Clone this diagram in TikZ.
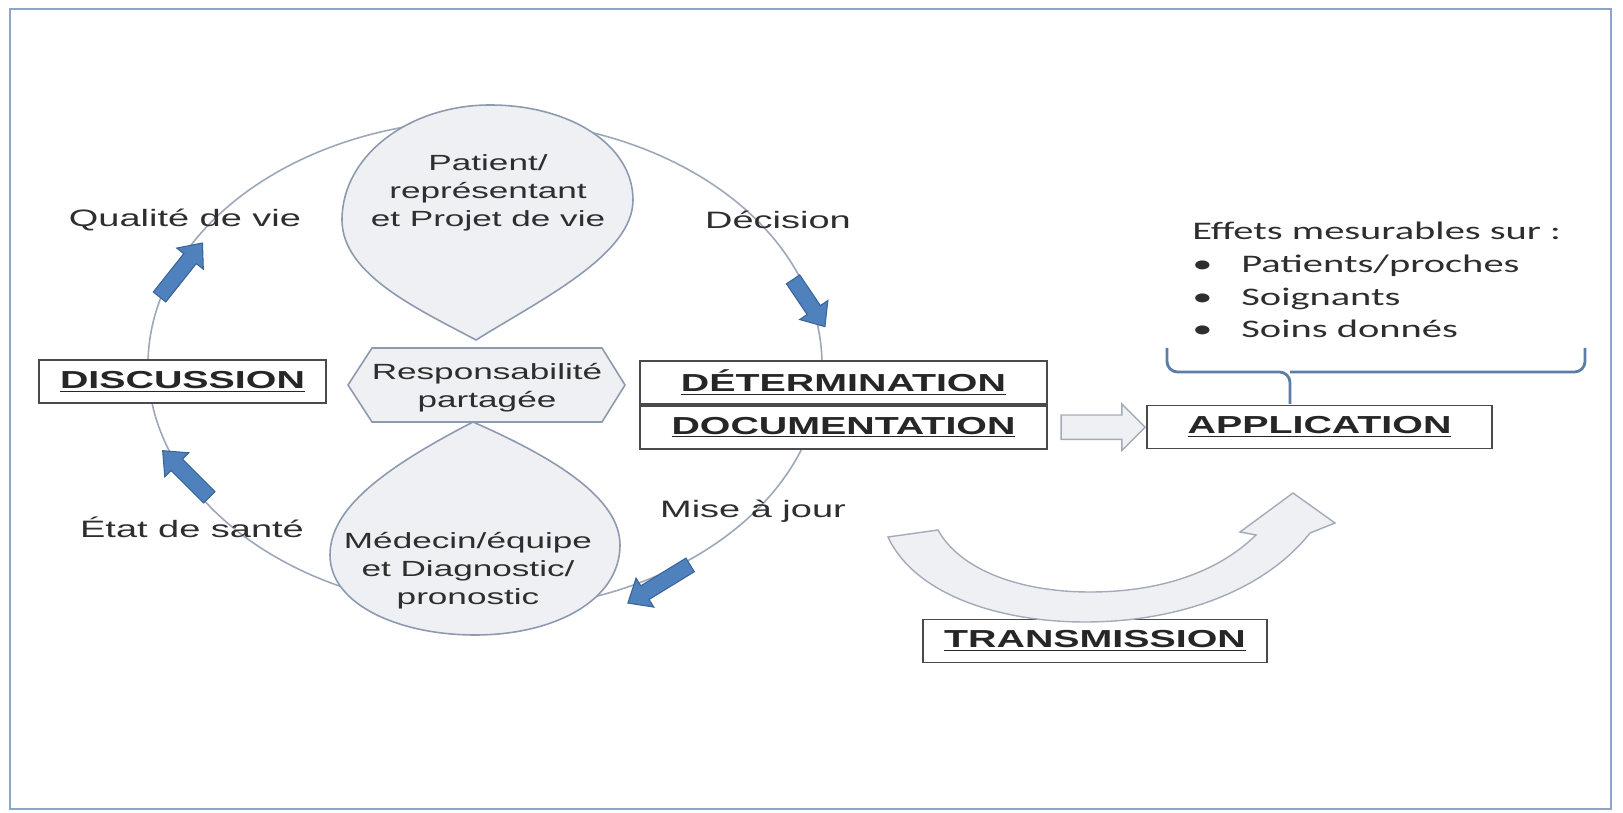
\documentclass[tikz,border=0pt]{standalone}
\usepackage{fontspec}
\setmainfont{Liberation Sans}[FakeStretch=1.6]
\newfontfamily\calibri{Carlito}[FakeStretch=1.6]
\usetikzlibrary{shapes.arrows,calc}
\definecolor{framecol}{HTML}{8EA4C8}
\definecolor{ringcol}{HTML}{9CA7B8}
\definecolor{bubline}{HTML}{8C9AB0}
\definecolor{bubfill}{HTML}{EFF0F4}
\definecolor{arrfill}{HTML}{4F81BD}
\definecolor{arrline}{HTML}{3A6498}
\definecolor{boxcol}{HTML}{4A4A4A}
\definecolor{txtcol}{HTML}{2E2E2E}
\definecolor{bracecol}{HTML}{5B7DA8}
\definecolor{harrline}{HTML}{A3ABB8}
\begin{document}
\begin{tikzpicture}[x=0.02cm, y=-0.02cm,
	lbl/.style={font=\fontsize{13.5}{16}\selectfont, text=txtcol},
	inlbl/.style={font=\fontsize{12.5}{15.9}\selectfont, text=txtcol, align=center},
	boxlbl/.style={draw=boxcol, line width=1.1pt, fill=white, inner sep=0pt,
		minimum height=0.86cm, font=\fontsize{14}{16}\selectfont\bfseries, text=black!85},
	bubble/.style={draw=bubline, fill=bubfill, line width=0.9pt},
	bluearr/.style={draw=arrline, fill=arrfill, line width=0.6pt}]
	\useasboundingbox (0,0) rectangle (1623,813);
	\draw[framecol, line width=1.4pt] (10,9) rectangle (1611,809);

	% cycle
	\draw[ringcol, line width=0.9pt] (485,365) ellipse [x radius=337, y radius=245];
	\draw[bubble] (476,340) .. controls (420,310) and (342,275) .. (342,220)
		.. controls (342,155) and (410,105) .. (490,105)
		.. controls (570,105) and (633,145) .. (633,200)
		.. controls (633,255) and (540,300) .. (476,340) -- cycle;
	\draw[bubble] (348,385) -- (372,348) -- (602,348) -- (625,385) -- (602,422) -- (372,422) -- cycle;
	\draw[bubble] (473,422) .. controls (560,460) and (620,500) .. (620,545)
		.. controls (620,600) and (555,635) .. (475,635)
		.. controls (400,635) and (330,605) .. (330,555)
		.. controls (330,510) and (380,470) .. (473,422) -- cycle;
	\node[inlbl] (patient) at (488,193) {Patient/\\représentant\\et Projet de vie};
	\node[inlbl] (resp) at (487,388) {Responsabilité\\partagée};
	\node[inlbl] (medecin) at (468,571) {Médecin/équipe\\et Diagnostic/\\pronostic};

	\foreach \cx/\cy/\ang/\len in {181/270/51.5/69,
							186/474/135/66,
							809/303/-56/57,
							659/584/211.5/73}
	\draw[bluearr, shift={(\cx,\cy)}, rotate=\ang] ({-\len/2},-8) -- ({\len/2-20},-8) -- ({\len/2-20},-17)
		-- ({\len/2},0) -- ({\len/2-20},17) -- ({\len/2-20},8) -- ({-\len/2},8) -- cycle;

	\node[lbl] (qual) at (185,220) {Qualité de vie};
	\node[lbl] (deci) at (778,220) {Décision};
	\node[lbl] (etat) at (192,527) {État de santé};
	\node[lbl] (maj) at (753,511) {Mise à jour};

	\node[boxlbl, minimum width=5.74cm] (disc) at (182.5,381.5) {\underline{DISCUSSION}};
	\node[boxlbl, minimum width=8.14cm] (det) at (843.5,382.5) {\underline{DÉTERMINATION}};
	\node[boxlbl, minimum width=8.14cm, anchor=north] (doc) at (det.south) {\underline{DOCUMENTATION}};
	\node[boxlbl, minimum width=6.9cm] (app) at (1319.5,427) {\underline{APPLICATION}};
	\node[boxlbl, minimum width=6.88cm] (trans) at (1095,641) {\underline{TRANSMISSION}};

	\node[single arrow, draw=harrline, fill=bubfill, line width=0.8pt, inner sep=0pt,
		inner ysep=0.23cm, minimum height=1.68cm, single arrow head extend=0.22cm]
		(harr) at ($(doc.east)!0.5!(app.west)$) {};

	\draw[draw=harrline, fill=bubfill, line width=0.8pt] (888,537) .. controls (915,595) and (1000,622) .. (1085,622)
		.. controls (1180,622) and (1265,590) .. (1310,533) -- (1335,523) -- (1293,493) -- (1240,532) -- (1256,535)
		.. controls (1215,575) and (1155,592) .. (1090,592)
		.. controls (1020,592) and (960,570) .. (938,530) -- cycle;

	\draw[bracecol, line width=1.6pt, rounded corners=6pt] (1167,348) |- (1290,372) -- (1290,404);
	\draw[bracecol, line width=1.6pt, rounded corners=6pt] (1585,348) |- (1290,372);
	\node[anchor=west, align=left, inner sep=0pt, text=txtcol, font=\calibri\fontsize{14.4}{18.7}\selectfont]
		(effets) at (1192,280) {Effets mesurables sur~:\\
		\makebox[0.98cm][l]{\textbullet}Patients/proches\\
		\makebox[0.98cm][l]{\textbullet}Soignants\\
		\makebox[0.98cm][l]{\textbullet}Soins donnés};
\end{tikzpicture}
\end{document}
